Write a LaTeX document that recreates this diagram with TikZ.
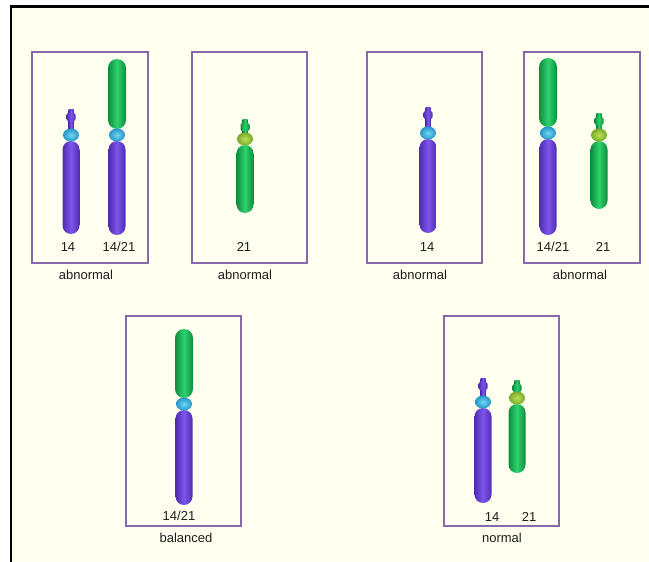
\documentclass[tikz,border=0pt]{standalone}
\usepackage{fontspec}
\setmainfont{Liberation Sans}
\usepackage{tikz}
\definecolor{paper}{RGB}{255,255,240}
\definecolor{box_purple}{RGB}{135,105,170}
\definecolor{arm_purple}{RGB}{125,85,235}
\definecolor{edge_purple}{RGB}{80,45,175}
\definecolor{arm_green}{RGB}{45,210,110}
\definecolor{edge_green}{RGB}{15,140,60}
\definecolor{cen_cyan}{RGB}{110,215,240}
\definecolor{edge_cyan}{RGB}{40,150,200}
\definecolor{cen_lime}{RGB}{190,225,90}
\definecolor{edge_lime}{RGB}{120,170,40}
\definecolor{label_gray}{RGB}{30,30,30}

% acrocentric chromosome: x, tip, centromere, bottom, arm style, centromere style
\newcommand{\acrochr}[6]{%
  \shade[#5] ({#1-2.5},#2) rectangle ({#1+2.5},#3);
  \shade[#5, rounded corners=2pt] ({#1-4.5},{#2+4}) rectangle ({#1+4.5},{#2+12});
  \shade[#5, rounded corners=8.5pt] ({#1-8.5},{#3+6}) rectangle ({#1+8.5},#4);
  \shade[#6] (#1,#3) ellipse (8pt and 6.5pt);
}
% fused 14/21 chromosome: x, top, centromere, bottom
\newcommand{\fusedchr}[4]{%
  \shade[grn, rounded corners=9pt] ({#1-9},#2) rectangle ({#1+9},{#3-6});
  \shade[pur, rounded corners=8.5pt] ({#1-8.5},{#3+6}) rectangle ({#1+8.5},#4);
  \shade[cyn] (#1,#3) ellipse (8pt and 6.5pt);
}

\begin{document}
\begin{tikzpicture}[x=1pt,y=-1pt]
    \tikzstyle{pur}=[left color=edge_purple, right color=edge_purple, middle color=arm_purple]
    \tikzstyle{grn}=[left color=edge_green, right color=edge_green, middle color=arm_green]
    \tikzstyle{cyn}=[inner color=cen_cyan, outer color=edge_cyan]
    \tikzstyle{lim}=[inner color=cen_lime, outer color=edge_lime]
    \tikzstyle{frame}=[draw=box_purple, line width=1.6pt]
    \tikzstyle{num}=[text=label_gray, font=\fontsize{13}{15}\selectfont, inner sep=0pt]
    \tikzstyle{caption}=[text=label_gray, font=\fontsize{13}{15}\selectfont, inner sep=0pt]

    \useasboundingbox (0,0) rectangle (649,562);
    \fill[white] (0,0) rectangle (649,562);
    \fill[paper] (11,6.5) rectangle (649,562);
    \draw[line width=2.5pt] (11,562) -- (11,6.5) -- (649,6.5);

    % boxes
    \draw[frame] (32,52) rectangle (148,263);
    \draw[frame] (192,52) rectangle (307,263);
    \draw[frame] (367,52) rectangle (482,263);
    \draw[frame] (524,52) rectangle (640,263);
    \draw[frame] (126,316) rectangle (241,526);
    \draw[frame] (444,316) rectangle (559,526);

    % chromosomes
    \acrochr{71}{109}{135}{234}{pur}{cyn}
    \fusedchr{117}{59}{135}{235}
    \acrochr{245}{119}{139}{213}{grn}{lim}
    \acrochr{428}{107}{133}{233}{pur}{cyn}
    \fusedchr{548}{58}{133}{235}
    \acrochr{599}{113}{135}{209}{grn}{lim}
    \fusedchr{184}{329}{404}{505}
    \acrochr{483}{378}{402}{503}{pur}{cyn}
    \acrochr{517}{380}{398}{473}{grn}{lim}

    % numbers
    \node[num] (n1) at (68,247) {14};
    \node[num] (n2) at (119,247) {14/21};
    \node[num] (n3) at (244,247) {21};
    \node[num] (n4) at (427,247) {14};
    \node[num] (n5) at (553,247) {14/21};
    \node[num] (n6) at (603,247) {21};
    \node[num] (n7) at (179,516) {14/21};
    \node[num] (n8) at (492,517) {14};
    \node[num] (n9) at (529,517) {21};

    % captions
    \node[caption] (c1) at (86,275) {abnormal};
    \node[caption] (c2) at (245,275) {abnormal};
    \node[caption] (c3) at (420,275) {abnormal};
    \node[caption] (c4) at (580,275) {abnormal};
    \node[caption] (c5) at (186,538) {balanced};
    \node[caption] (c6) at (502,538) {normal};
\end{tikzpicture}
\end{document}
